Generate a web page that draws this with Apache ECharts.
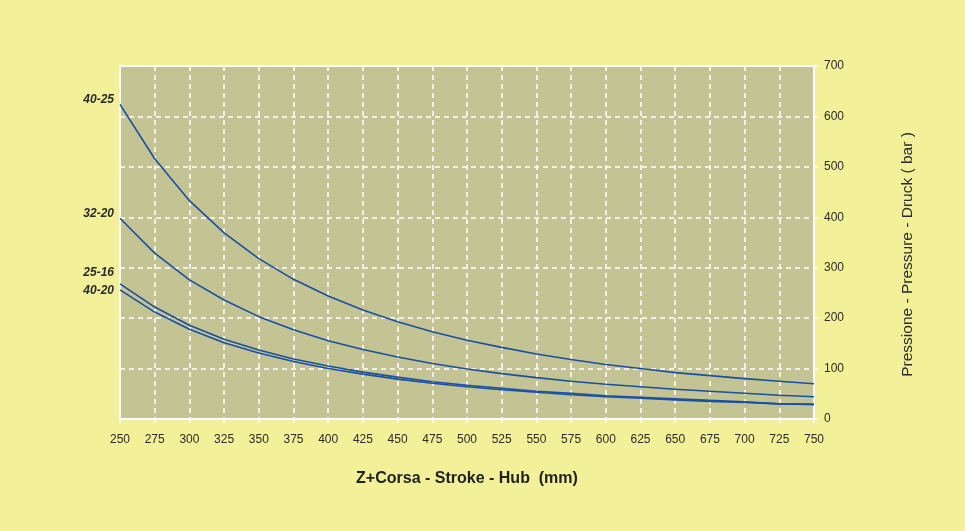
<!DOCTYPE html>
<html>
<head>
<meta charset="utf-8">
<script src="https://cdn.jsdelivr.net/npm/echarts@6/dist/echarts.min.js"></script>
<style>
html,body{margin:0;padding:0;background:#f2f098;}
#chart{width:965px;height:531px;}
</style>
</head>
<body>
<div id="chart"></div>
<script>
var strokes = [250, 275, 300, 325, 350, 375, 400, 425, 450, 475, 500, 525, 550, 575, 600, 625, 650, 675, 700, 725, 750];
var seriesNames = ['40-25', '32-20', '25-16', '40-20'];
var s4025 = [624, 516, 433, 369, 318, 277, 244, 216, 193, 173, 156, 142, 129, 118, 108, 100, 92, 86, 80, 75, 70];
var s3220 = [398, 329, 276, 236, 203, 177, 155, 138, 123, 110, 99, 90, 82, 75, 69, 64, 59, 55, 51, 47, 44];
var s2516 = [268, 222, 186, 158, 137, 119, 105, 93, 83, 74, 67, 61, 55, 51, 46, 43, 40, 37, 34, 30, 29];
var s4020 = [256, 212, 178, 151, 131, 114, 100, 89, 79, 71, 64, 58, 53, 48, 44, 41, 38, 35, 33, 30, 29];
var xTicks = [250, 750, 25];
var yTicks = [0, 700, 100];

var allValues = [s4025, s3220, s2516, s4020];
var labelOffsets = [[0, -5], [0, -5], [0, -11], [0, 1]];

var font = 'Liberation Sans, Arial, sans-serif';
var chart = echarts.init(document.getElementById('chart'), null, {renderer: 'canvas'});

var series = seriesNames.map(function (name, si) {
  var data = strokes.map(function (x, i) {
    var item = {value: [x, allValues[si][i]]};
    if (i === 0) {
      item.label = {
        show: true,
        position: 'left',
        distance: 6,
        offset: labelOffsets[si],
        formatter: name,
        fontFamily: font,
        fontStyle: 'italic',
        fontWeight: 'bold',
        fontSize: 12,
        color: '#2b2b2b'
      };
    }
    return item;
  });
  return {
    name: name,
    type: 'line',
    data: data,
    showSymbol: true,
    symbolSize: 0,
    smooth: false,
    silent: true,
    animation: false,
    lineStyle: {color: '#1a50a0', width: 1.6},
    itemStyle: {color: '#1a50a0'}
  };
});

chart.setOption({
  backgroundColor: '#f2f098',
  animation: false,
  grid: {
    left: 120, right: 151, top: 66, bottom: 112,
    show: true,
    backgroundColor: '#c4c394',
    borderColor: '#ffffff',
    borderWidth: 2
  },
  xAxis: {
    type: 'value',
    min: xTicks[0], max: xTicks[1], interval: xTicks[2],
    name: 'Z+Corsa - Stroke - Hub  (mm)',
    nameLocation: 'middle',
    nameGap: 52,
    nameTextStyle: {fontFamily: font, fontWeight: 'bold', fontSize: 16, color: '#222222'},
    axisLine: {show: true, lineStyle: {color: '#ffffff', width: 2}},
    axisTick: {show: true, length: 4, lineStyle: {color: '#ffffff', width: 1.5}},
    axisLabel: {fontFamily: font, fontSize: 12, color: '#2b2b2b', margin: 15},
    splitLine: {show: true, lineStyle: {color: '#ffffff', type: [5, 4], width: 1.5}}
  },
  yAxis: {
    type: 'value',
    position: 'right',
    min: yTicks[0], max: yTicks[1], interval: yTicks[2],
    name: 'Pressione - Pressure - Druck ( bar )',
    nameLocation: 'middle',
    nameRotate: 90,
    nameGap: 86,
    nameTextStyle: {fontFamily: font, fontSize: 15.5, color: '#2b2b2b', padding: [0, 24, 0, 0]},
    axisLine: {show: true, lineStyle: {color: '#ffffff', width: 2}},
    axisTick: {show: true, length: 4, lineStyle: {color: '#ffffff', width: 1.5}},
    axisLabel: {fontFamily: font, fontSize: 12, color: '#2b2b2b', margin: 10},
    splitLine: {show: true, lineStyle: {color: '#ffffff', type: [5, 4], width: 1.5}}
  },
  series: series
});
</script>
</body>
</html>
